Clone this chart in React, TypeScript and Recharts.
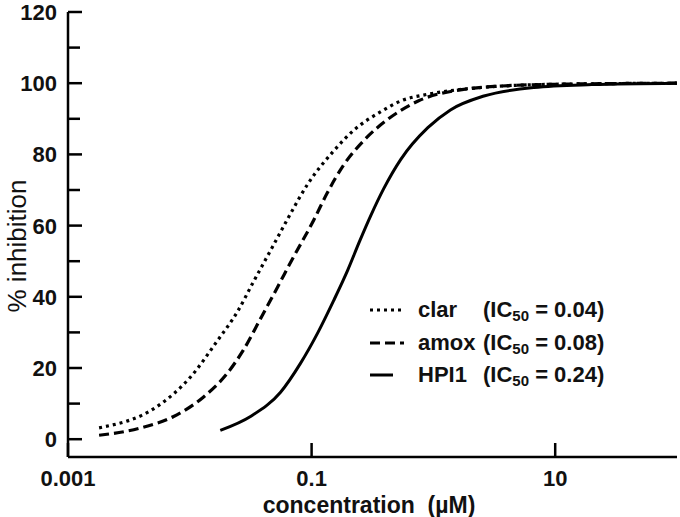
import { LineChart, Line, XAxis, YAxis, Legend } from 'recharts';

// concentration (µM) / % inhibition
const clarConc = [0.0018, 0.0054, 0.0101, 0.0168, 0.0246, 0.0333, 0.0477, 0.0634, 0.0927, 0.152, 0.222, 0.37, 0.54, 0.9, 1.38, 3, 10, 100];
const clarInh = [3.2, 9.2, 17.4, 27.6, 35.8, 44.2, 54, 61.8, 71.6, 81, 86.8, 92, 95, 96.9, 97.9, 99, 99.7, 100];

const amoxConc = [0.0018, 0.0039, 0.0073, 0.0129, 0.0204, 0.0275, 0.038, 0.0525, 0.068, 0.104, 0.135, 0.183, 0.27, 0.42, 0.75, 1.9, 3.6, 10, 100];
const amoxInh = [1.1, 3.1, 6.3, 11.8, 18.6, 25, 33.8, 42.7, 50, 61.5, 69.3, 77, 84, 89.8, 95, 98.4, 99.2, 99.7, 100];

const hpiConc = [0.0178, 0.0315, 0.0556, 0.081, 0.112, 0.152, 0.198, 0.25, 0.306, 0.39, 0.54, 0.9, 1.38, 2.6, 6.7, 20, 100];
const hpiInh = [2.5, 6.4, 13.2, 21.3, 29.8, 39, 47.5, 55.9, 62.8, 70.3, 78.6, 87.5, 92.5, 96.4, 98.8, 99.6, 100];

const seriesNames = ['clar', 'amox', 'HPI1'];
const ic50Labels = ['0.04', '0.08', '0.24'];
const seriesDash = ['3 4', '10 5', ''];

const xTicks = [0.001, 0.1, 10];
const xTickLabels = ['0.001', '0.1', '10'];
const yTicks = [0, 10, 20, 30, 40, 50, 60, 70, 80, 90, 100, 110, 120];

const FONT = '"Liberation Sans", Arial, sans-serif';

const toRows = (conc: number[], inh: number[]) => conc.map((c, i) => ({ c, v: inh[i] }));

const YTick = (props: any) => {
  const { x, y, payload } = props;
  const v = payload.value;
  const major = v % 20 === 0;
  return (
    <g>
      <line x1={x} x2={x + (major ? 14 : 12)} y1={y} y2={y} stroke="#000" strokeWidth={2.5} />
      {major && (
        <text x={x - 11} y={y + 8} textAnchor="end" fontFamily={FONT} fontWeight="bold" fontSize={22} fill="#111">
          {v}
        </text>
      )}
    </g>
  );
};

const XTick = (props: any) => {
  const { x, y, payload } = props;
  const idx = xTicks.indexOf(payload.value);
  return (
    <g>
      <line x1={x} x2={x} y1={y} y2={y - 14} stroke="#000" strokeWidth={2.5} />
      <text x={x} y={y + 29} textAnchor="middle" fontFamily={FONT} fontWeight="bold" fontSize={22} fill="#111">
        {idx >= 0 ? xTickLabels[idx] : payload.value}
      </text>
    </g>
  );
};

const LegendBox = () => (
  <div style={{ fontFamily: FONT, fontWeight: 'bold', fontSize: 22, color: '#111', whiteSpace: 'nowrap' }}>
    {seriesNames.map((name, i) => (
      <div key={name} style={{ display: 'flex', alignItems: 'center', height: 32.5 }}>
        <svg width={34} height={6} style={{ display: 'block' }}>
          <line x1={0} x2={i === 2 ? 23 : 34} y1={3} y2={3} stroke="#000" strokeWidth={3} strokeDasharray={seriesDash[i]} />
        </svg>
        <span style={{ marginLeft: 14, width: 65 }}>{name}</span>
        <span>
          (IC<span style={{ fontSize: 15, position: 'relative', top: 4 }}>50</span> = {ic50Labels[i]})
        </span>
      </div>
    ))}
  </div>
);

export default function App() {
  const datasets = [toRows(clarConc, clarInh), toRows(amoxConc, amoxInh), toRows(hpiConc, hpiInh)];
  return (
    <div style={{ position: 'absolute', left: 0, top: 0, background: '#fff' }}>
      <LineChart width={680} height={517} margin={{ top: 12, right: 3, bottom: 0, left: 0 }}>
        <XAxis
          dataKey="c"
          type="number"
          scale="log"
          domain={[0.001, 100]}
          allowDataOverflow
          ticks={xTicks}
          tick={<XTick />}
          tickLine={false}
          tickSize={0}
          tickMargin={0}
          height={60}
          axisLine={{ stroke: '#000', strokeWidth: 2.5 }}
        />
        <YAxis
          type="number"
          domain={[-5, 120]}
          allowDataOverflow
          ticks={yTicks}
          tick={<YTick />}
          tickLine={false}
          tickSize={0}
          tickMargin={0}
          width={68}
          axisLine={{ stroke: '#000', strokeWidth: 2.5 }}
        />
        {datasets.map((d, i) => (
          <Line
            key={seriesNames[i]}
            data={d}
            dataKey="v"
            name={seriesNames[i]}
            type="monotone"
            stroke="#000"
            strokeWidth={i === 2 ? 3 : 3.2}
            strokeDasharray={seriesDash[i] || undefined}
            dot={false}
            isAnimationActive={false}
          />
        ))}
        <Legend
          layout="horizontal"
          verticalAlign="middle"
          align="center"
          content={<LegendBox />}
          wrapperStyle={{ position: 'absolute', left: 370, top: 294, width: 300 }}
        />
        <text x={17} y={246} transform="rotate(-90 17 246)" textAnchor="middle" dominantBaseline="central" fontFamily={FONT} fontSize={26} fill="#111">
          % inhibition
        </text>
        <text x={369} y={513} textAnchor="middle" fontFamily={FONT} fontWeight="bold" fontSize={23} fill="#111">
          {'concentration\u00a0\u00a0(µM)'}
        </text>
      </LineChart>
    </div>
  );
}
